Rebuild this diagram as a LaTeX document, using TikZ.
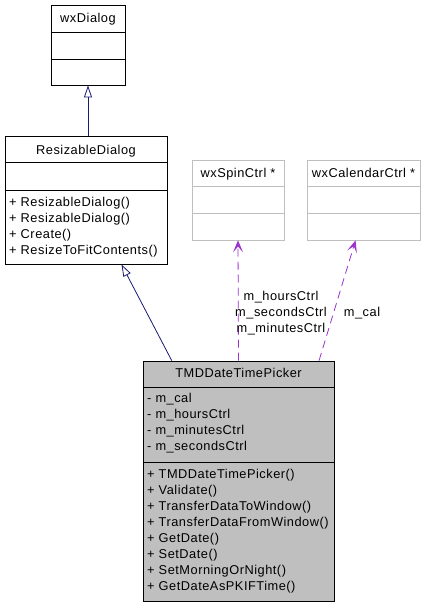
\documentclass[tikz,border=0pt]{standalone}
\usepackage{fontspec}
\setmainfont[LetterSpace=4]{Liberation Sans}
\usetikzlibrary{arrows.meta,calc}
\definecolor{inh}{HTML}{191970}
\definecolor{use}{HTML}{9A32CD}
\definecolor{gbord}{HTML}{BFBFBF}
\definecolor{gfill}{HTML}{BFBFBF}
\tikzset{
  classbox/.style={draw=black, line width=0.8pt, inner sep=0pt, rectangle},
  greybox/.style={draw=gbord, line width=0.8pt, inner sep=0pt, rectangle},
  divline/.style={line width=0.8pt},
  title/.style={inner sep=0pt, text height=9pt, text depth=0pt, font=\fontsize{12.8}{14}\selectfont},
  mem/.style={title, anchor=west},
  lab/.style={title},
  inharrow/.style={draw=inh, line width=0.8pt, -{Triangle[open,length=12pt,width=8pt]}},
  usearrow/.style={draw=use, line width=0.8pt, dash pattern=on 8pt off 5pt, -{Stealth[length=12pt,width=10pt,inset=6pt]}}
}
\begin{document}
\begin{tikzpicture}[x=1pt,y=-1pt]
\useasboundingbox (0,0) rectangle (429,605);

% wxDialog
\node[classbox, minimum width=74pt, minimum height=80pt] (wxd) at (88,45) {};
\draw[divline] (wxd.west |- 0,32) -- (wxd.east |- 0,32);
\draw[divline] (wxd.west |- 0,59) -- (wxd.east |- 0,59);
\node[title] (wxdt) at (88,18.5) {wxDialog};

% ResizableDialog
\node[classbox, minimum width=162pt, minimum height=128pt] (rd) at (86,200) {};
\draw[divline] (rd.west |- 0,162) -- (rd.east |- 0,162);
\draw[divline] (rd.west |- 0,190) -- (rd.east |- 0,190);
\node[title] (rdt) at (86,150) {ResizableDialog};
\node[mem] (rdm1) at (9,202) {+ ResizableDialog()};
\node[mem] (rdm2) at (9,218) {+ ResizableDialog()};
\node[mem] (rdm3) at (9,234) {+ Create()};
\node[mem] (rdm4) at (9,250) {+ ResizeToFitContents()};

% wxSpinCtrl
\node[greybox, minimum width=92pt, minimum height=80pt] (spin) at (238,200) {};
\draw[divline, draw=gbord] (spin.west |- 0,186) -- (spin.east |- 0,186);
\draw[divline, draw=gbord] (spin.west |- 0,213) -- (spin.east |- 0,213);
\node[title] (spint) at (238,173) {wxSpinCtrl *};

% wxCalendarCtrl
\node[greybox, minimum width=113pt, minimum height=80pt] (cal) at (363.5,200) {};
\draw[divline, draw=gbord] (cal.west |- 0,186) -- (cal.east |- 0,186);
\draw[divline, draw=gbord] (cal.west |- 0,213) -- (cal.east |- 0,213);
\node[title] (calt) at (363.5,173) {wxCalendarCtrl *};

% TMDDateTimePicker
\node[classbox, fill=gfill, minimum width=191pt, minimum height=240pt] (tmd) at (238.5,481) {};
\draw[divline] (tmd.west |- 0,387) -- (tmd.east |- 0,387);
\draw[divline] (tmd.west |- 0,462) -- (tmd.east |- 0,462);
\node[title] (tmdt) at (238.5,373) {TMDDateTimePicker};
\node[mem] (a1) at (147,398) {- m\_cal};
\node[mem] (a2) at (147,414) {- m\_hoursCtrl};
\node[mem] (a3) at (147,430) {- m\_minutesCtrl};
\node[mem] (a4) at (147,446) {- m\_secondsCtrl};
\node[mem] (m1) at (147,474) {+ TMDDateTimePicker()};
\node[mem] (m2) at (147,490) {+ Validate()};
\node[mem] (m3) at (147,506) {+ TransferDataToWindow()};
\node[mem] (m4) at (147,522) {+ TransferDataFromWindow()};
\node[mem] (m5) at (147,538) {+ GetDate()};
\node[mem] (m6) at (147,554) {+ SetDate()};
\node[mem] (m7) at (147,570) {+ SetMorningOrNight()};
\node[mem] (m8) at (147,586) {+ GetDateAsPKIFTime()};

% connectors
\draw[inharrow] (rd.north -| wxd.south) -- (wxd.south);
\draw[inharrow] ($(tmd.north west)!0.152!(tmd.north east)$) -- ($(rd.south west)!0.718!(rd.south east)$);
\draw[usearrow] (tmd.north) -- (spin.south);
\draw[usearrow] ($(tmd.north west)!0.92!(tmd.north east)$) -- ($(cal.south west)!0.43!(cal.south east)$);

% labels
\node[lab] (l1) at (281,296) {m\_hoursCtrl};
\node[lab] (l2) at (281,312) {m\_secondsCtrl};
\node[lab] (l3) at (281,328) {m\_minutesCtrl};
\node[lab] (l4) at (362,312) {m\_cal};
\end{tikzpicture}
\end{document}
